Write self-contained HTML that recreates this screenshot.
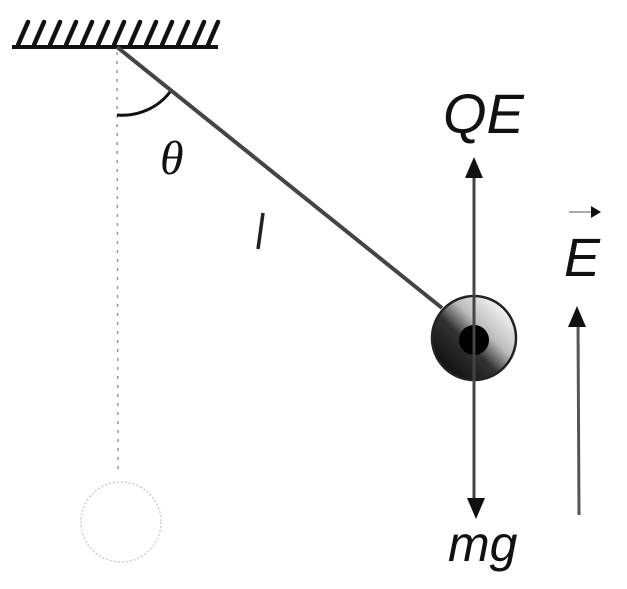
<!DOCTYPE html>
<html><head><style>html,body{margin:0;padding:0;background:#fff}svg{display:block}</style></head><body>
<svg width="627" height="589" viewBox="0 0 627 589" xmlns="http://www.w3.org/2000/svg">
<defs>
<linearGradient id="g" x1="0.15" y1="0.85" x2="0.85" y2="0.15">
<stop offset="0" stop-color="#111"/><stop offset="0.4" stop-color="#333"/><stop offset="0.65" stop-color="#bbb"/><stop offset="1" stop-color="#f2f2f2"/>
</linearGradient>
</defs>
<line x1="12" y1="47" x2="218" y2="47" stroke="#111" stroke-width="4"/>
<g stroke="#111" stroke-width="4.5" stroke-linecap="round">
<line x1="18" y1="45" x2="28" y2="22"/><line x1="34" y1="45" x2="44" y2="22"/><line x1="50" y1="45" x2="60" y2="22"/><line x1="66" y1="45" x2="76" y2="22"/><line x1="82" y1="45" x2="92" y2="22"/><line x1="98" y1="45" x2="108" y2="22"/><line x1="114" y1="45" x2="124" y2="22"/><line x1="130" y1="45" x2="140" y2="22"/><line x1="146" y1="45" x2="156" y2="22"/><line x1="162" y1="45" x2="172" y2="22"/><line x1="178" y1="45" x2="188" y2="22"/><line x1="194" y1="45" x2="204" y2="22"/><line x1="208" y1="45" x2="218" y2="22"/>
</g>
<line x1="117" y1="52" x2="118" y2="470" stroke="#999" stroke-width="1.5" stroke-dasharray="3 6"/>
<circle cx="121" cy="522" r="40" fill="none" stroke="#ccc" stroke-width="1.5" stroke-dasharray="2 2"/>
<line x1="117" y1="47" x2="442" y2="308" stroke="#444" stroke-width="4"/>
<path d="M117 115 A60 60 0 0 0 170 92" fill="none" stroke="#111" stroke-width="3"/>
<line x1="263" y1="213" x2="258" y2="249" stroke="#222" stroke-width="3.5"/>
<circle cx="474" cy="338" r="42" fill="url(#g)" stroke="#222" stroke-width="2.5"/>
<circle cx="474" cy="340" r="15" fill="#000"/>
<line x1="474" y1="170" x2="474" y2="505" stroke="#444" stroke-width="3"/>
<polygon points="474,157 465,178 483,178" fill="#111"/>
<polygon points="476,519 467,498 485,498" fill="#111"/>
<line x1="578" y1="320" x2="579" y2="515" stroke="#555" stroke-width="3"/>
<polygon points="577,306 568,327 586,327" fill="#111"/>
<line x1="569" y1="212" x2="592" y2="212" stroke="#aaa" stroke-width="2"/>
<polygon points="601,212 591,206 591,218" fill="#111"/>
<g font-family="Liberation Sans, sans-serif" font-style="italic" fill="#111">
<text x="443" y="133" font-size="56">QE</text>
<text x="564" y="276" font-size="54">E</text>
<text x="448" y="561" font-size="50">mg</text>
</g>
<text x="160" y="174" font-family="Liberation Serif, serif" font-style="italic" font-size="48" fill="#111">θ</text>
</svg>
</body></html>
